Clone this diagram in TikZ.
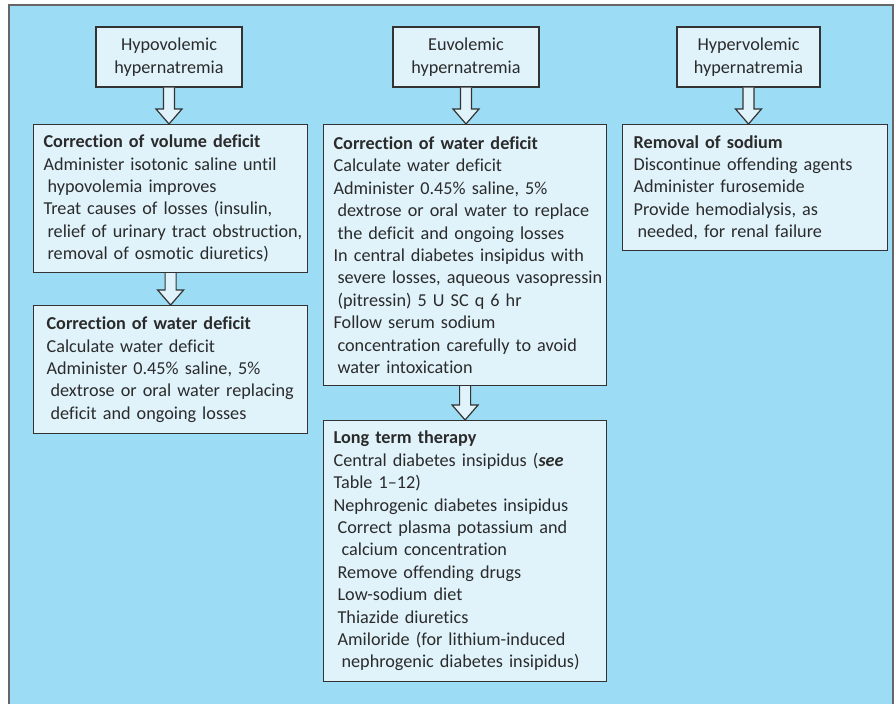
\documentclass[tikz,border=0pt]{standalone}
\usepackage{fontspec}
\setmainfont{Carlito}[Ligatures=NoCommon]
\usetikzlibrary{calc, positioning}
\definecolor{bgBlue}{RGB}{157,220,245}
\definecolor{boxBlue}{RGB}{224,243,251}
\definecolor{lineGray}{gray}{0.2}
\definecolor{textGray}{gray}{0.17}
\definecolor{frameGray}{gray}{0.4}
\newcommand{\ind}{\hspace*{4pt}}
\newcommand{\boxfont}{\fontsize{18.2}{22.4}\selectfont\spaceskip=0.2em plus 0.1em minus 0.05em\relax}

\begin{document}
\begin{tikzpicture}[x=1pt, y=-1pt,
    every node/.style={font=\boxfont, text=textGray},
    headbox/.style={draw=lineGray, fill=boxBlue, line width=1.2pt, minimum width=146pt, minimum height=60pt, align=center, inner sep=0pt},
    infobox/.style={draw=lineGray, fill=boxBlue, line width=1.2pt, anchor=north west, align=left, inner xsep=10pt, inner ysep=0pt},
    flowarrow/.style={draw=lineGray, fill=boxBlue, line width=1.2pt, line join=miter}]

    \useasboundingbox (0,0) rectangle (895,704);
    \fill[bgBlue] (9,5) rectangle (893,704);
    \draw[frameGray, line width=1.5pt] (9,704) -- (9,5) -- (893,5) -- (893,704);

    % headers
    \node[headbox] (hypo) at (169,57) {Hypovolemic\\hypernatremia};
    \node[headbox] (eu) at (466,57) {Euvolemic\\hypernatremia};
    \node[headbox, minimum width=143pt] (hyper) at (748.5,57) {Hypervolemic\\hypernatremia};

    % hypovolemic column
    \node[infobox, text width=254pt, minimum height=148pt] (volA) at (33,124) {%
        \textbf{Correction of volume deficit}\\
        \mbox{Administer isotonic saline until}\\
        \ind hypovolemia improves\\
        \mbox{Treat causes of losses (insulin,}\\
        \ind\mbox{relief of urinary tract obstruction,}\\
        \ind removal of osmotic diuretics)};
    \node[infobox, inner xsep=13pt, text width=248pt, minimum height=128pt] (waterA) at (33,305) {%
        \textbf{Correction of water deficit}\\
        Calculate water deficit\\
        \mbox{Administer 0.45\% saline, 5\%}\\
        \ind\mbox{dextrose or oral water replacing}\\
        \ind deficit and ongoing losses};

    % euvolemic column
    \node[infobox, text width=263pt, minimum height=261pt] (waterE) at (323,124) {%
        \textbf{Correction of water deficit}\\
        Calculate water deficit\\
        \mbox{Administer 0.45\% saline, 5\%}\\
        \ind\mbox{dextrose or oral water to replace}\\
        \ind the deficit and ongoing losses\\
        \mbox{In central diabetes insipidus with}\\
        \ind\mbox{severe losses, aqueous vasopressin}\\
        \ind (pitressin) 5 U SC q 6 hr\\
        Follow serum sodium\\
        \ind\mbox{concentration carefully to avoid}\\
        \ind water intoxication};
    \node[infobox, text width=263pt, minimum height=261pt] (longE) at (323,420) {%
        \textbf{Long term therapy}\\
        \mbox{Central diabetes insipidus (\textbf{\textit{see}}}\\
        Table 1--12)\\
        \mbox{Nephrogenic diabetes insipidus}\\
        \ind\mbox{Correct plasma potassium and}\\
        \ind\ind calcium concentration\\
        \ind Remove offending drugs\\
        \ind Low-sodium diet\\
        \ind Thiazide diuretics\\
        \ind\mbox{Amiloride (for lithium-induced}\\
        \ind\ind\mbox{nephrogenic diabetes insipidus)}};

    % hypervolemic column
    \node[infobox, inner xsep=11pt, text width=243pt, minimum height=126pt] (sodium) at (622,124) {%
        \textbf{Removal of sodium}\\
        \mbox{Discontinue offending agents}\\
        Administer furosemide\\
        \mbox{Provide hemodialysis, as}\\
        \ind needed, for renal failure};

    % hollow block arrows
    \foreach \src/\dst in {hypo/volA, volA/waterA, eu/waterE, waterE/longE, hyper/sodium} {
        \draw[flowarrow] let \p1=(\src.south), \p2=(\dst.north) in
            (\x1-5.5pt,\y1) -- (\x1-5.5pt,\y2+15pt) -- (\x1-13pt,\y2+15pt) -- (\x1,\y2)
            -- (\x1+13pt,\y2+15pt) -- (\x1+5.5pt,\y2+15pt) -- (\x1+5.5pt,\y1);
    }
\end{tikzpicture}
\end{document}
